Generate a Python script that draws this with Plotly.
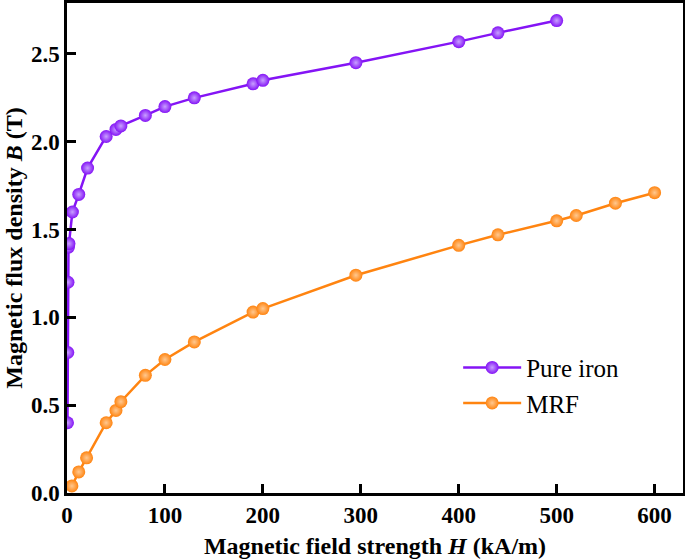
import plotly.graph_objects as go

iron_H = [0.5, 0.8, 1.0, 1.5, 2.0, 5.5, 12, 21, 40, 50, 55, 80, 100, 130, 190, 200, 295, 400, 440, 500]
iron_B = [0.40, 0.80, 1.20, 1.40, 1.42, 1.60, 1.70, 1.85, 2.03, 2.07, 2.09, 2.15, 2.20, 2.25, 2.33, 2.35, 2.45, 2.57, 2.62, 2.69]

mrf_H = [5, 12, 20, 40, 50, 55, 80, 100, 130, 190, 200, 295, 400, 440, 500, 520, 560, 600]
mrf_B = [0.04, 0.12, 0.20, 0.40, 0.47, 0.52, 0.67, 0.76, 0.86, 1.03, 1.05, 1.24, 1.41, 1.47, 1.55, 1.58, 1.65, 1.71]

x_ticks = [0, 100, 200, 300, 400, 500, 600]
y_ticks = [0.0, 0.5, 1.0, 1.5, 2.0, 2.5]

purple = "#8414F5"
orange = "#FF8410"

fig = go.Figure()
fig.add_trace(go.Scatter(
    x=iron_H, y=iron_B, mode="lines+markers", name="Pure iron",
    line=dict(color=purple, width=2.5),
    marker=dict(size=13, color=purple, gradient=dict(type="radial", color="#C8A0FF")),
    cliponaxis=True,
))
fig.add_trace(go.Scatter(
    x=mrf_H, y=mrf_B, mode="lines+markers", name="MRF",
    line=dict(color=orange, width=2.5),
    marker=dict(size=13, color=orange, gradient=dict(type="radial", color="#FFC890")),
    cliponaxis=True,
))

font_family = "Liberation Serif, Times New Roman, serif"
fig.update_layout(
    width=685, height=560,
    margin=dict(l=67, r=2, t=3, b=67),
    paper_bgcolor="white", plot_bgcolor="white",
    font=dict(family=font_family, color="black"),
    showlegend=True,
    legend=dict(x=0.635, y=0.22, xanchor="left", yanchor="middle",
                font=dict(size=25, family=font_family, color="black"),
                bgcolor="rgba(0,0,0,0)", itemwidth=58, tracegroupgap=4),
)
axis_common = dict(
    showgrid=False, zeroline=False, showline=True, mirror=True,
    linecolor="black", linewidth=2.5,
    ticks="inside", ticklen=9, tickwidth=2.5, tickcolor="black",
    tickfont=dict(size=23, family=font_family, color="black", weight="bold"),
    automargin=False,
)
fig.update_xaxes(
    range=[0, 629], tickvals=x_ticks, ticktext=[str(v) for v in x_ticks],
    title=dict(text="<b>Magnetic field strength <i>H</i> (kA/m)</b>",
               font=dict(size=24, family=font_family, color="black"), standoff=10),
    **axis_common,
)
fig.update_yaxes(
    range=[0, 2.79], tickvals=y_ticks, ticktext=[f"{v:.1f}" for v in y_ticks],
    title=dict(text="<b>Magnetic flux density <i>B</i> (T)</b>",
               font=dict(size=24, family=font_family, color="black"), standoff=2),
    **axis_common,
)

fig.write_html("out.html", config={"displayModeBar": False},
               post_script="document.body.style.margin='0';document.body.style.overflow='hidden';")
